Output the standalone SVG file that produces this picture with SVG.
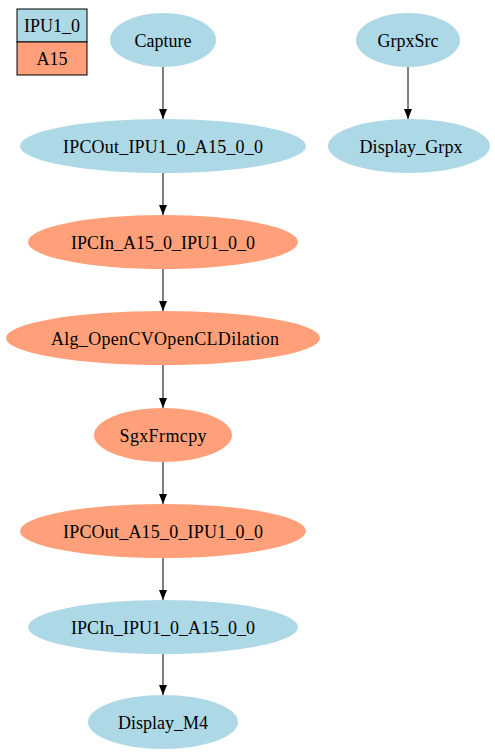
<svg xmlns="http://www.w3.org/2000/svg" width="495" height="752" viewBox="0 0 495 752">
<style>
text{font-family:"Liberation Serif","Times New Roman",serif;font-size:18px;text-anchor:middle;fill:#000}
.b{fill:#add8e6}
.s{fill:#ffa07a}
.e{stroke:#000;stroke-width:1;fill:none}
</style>
<defs>
<marker id="a" markerWidth="10" markerHeight="8" refX="10" refY="4" orient="auto" markerUnits="userSpaceOnUse">
<path d="M0,0 L10,4 L0,8 Z" fill="#000"/>
</marker>
</defs>
<rect width="495" height="752" fill="#fff"/>
<g id="legend">
<rect x="17" y="9" width="70" height="33" class="b" stroke="#000"/>
<rect x="17" y="42" width="70" height="33" class="s" stroke="#000"/>
<text x="52" y="32">IPU1_0</text>
<text x="52" y="65">A15</text>
</g>
<g id="edges">
<line class="e" x1="163" y1="67" x2="163" y2="119" marker-end="url(#a)"/>
<line class="e" x1="163" y1="173" x2="163" y2="215" marker-end="url(#a)"/>
<line class="e" x1="163" y1="269" x2="163" y2="311" marker-end="url(#a)"/>
<line class="e" x1="163" y1="365" x2="163" y2="408" marker-end="url(#a)"/>
<line class="e" x1="163" y1="462" x2="163" y2="504" marker-end="url(#a)"/>
<line class="e" x1="163" y1="558" x2="163" y2="600" marker-end="url(#a)"/>
<line class="e" x1="163" y1="654" x2="163" y2="695" marker-end="url(#a)"/>
<line class="e" x1="408" y1="67" x2="408" y2="119" marker-end="url(#a)"/>
</g>
<g id="Capture"><ellipse class="b" cx="163" cy="40" rx="53" ry="27"/><text x="163" y="47">Capture</text></g>
<g id="GrpxSrc"><ellipse class="b" cx="408" cy="40" rx="52" ry="27"/><text x="408" y="47">GrpxSrc</text></g>
<g id="IPCOut_IPU1_0_A15_0_0"><ellipse class="b" cx="163" cy="146" rx="143" ry="27"/><text x="163" y="153" textLength="200">IPCOut_IPU1_0_A15_0_0</text></g>
<g id="Display_Grpx"><ellipse class="b" cx="409" cy="146" rx="81" ry="27"/><text x="411" y="153" textLength="103">Display_Grpx</text></g>
<g id="IPCIn_A15_0_IPU1_0_0"><ellipse class="s" cx="163" cy="242" rx="135" ry="27"/><text x="163" y="249">IPCIn_A15_0_IPU1_0_0</text></g>
<g id="Alg_OpenCVOpenCLDilation"><ellipse class="s" cx="163" cy="338" rx="157" ry="27"/><text x="165" y="345" textLength="228">Alg_OpenCVOpenCLDilation</text></g>
<g id="SgxFrmcpy"><ellipse class="s" cx="163" cy="435" rx="69" ry="27"/><text x="163" y="442" textLength="87">SgxFrmcpy</text></g>
<g id="IPCOut_A15_0_IPU1_0_0"><ellipse class="s" cx="163" cy="531" rx="143" ry="27"/><text x="163" y="538" textLength="200">IPCOut_A15_0_IPU1_0_0</text></g>
<g id="IPCIn_IPU1_0_A15_0_0"><ellipse class="b" cx="163" cy="627" rx="135" ry="27"/><text x="163" y="634">IPCIn_IPU1_0_A15_0_0</text></g>
<g id="Display_M4"><ellipse class="b" cx="163" cy="722" rx="75" ry="27"/><text x="163" y="729">Display_M4</text></g>
</svg>
